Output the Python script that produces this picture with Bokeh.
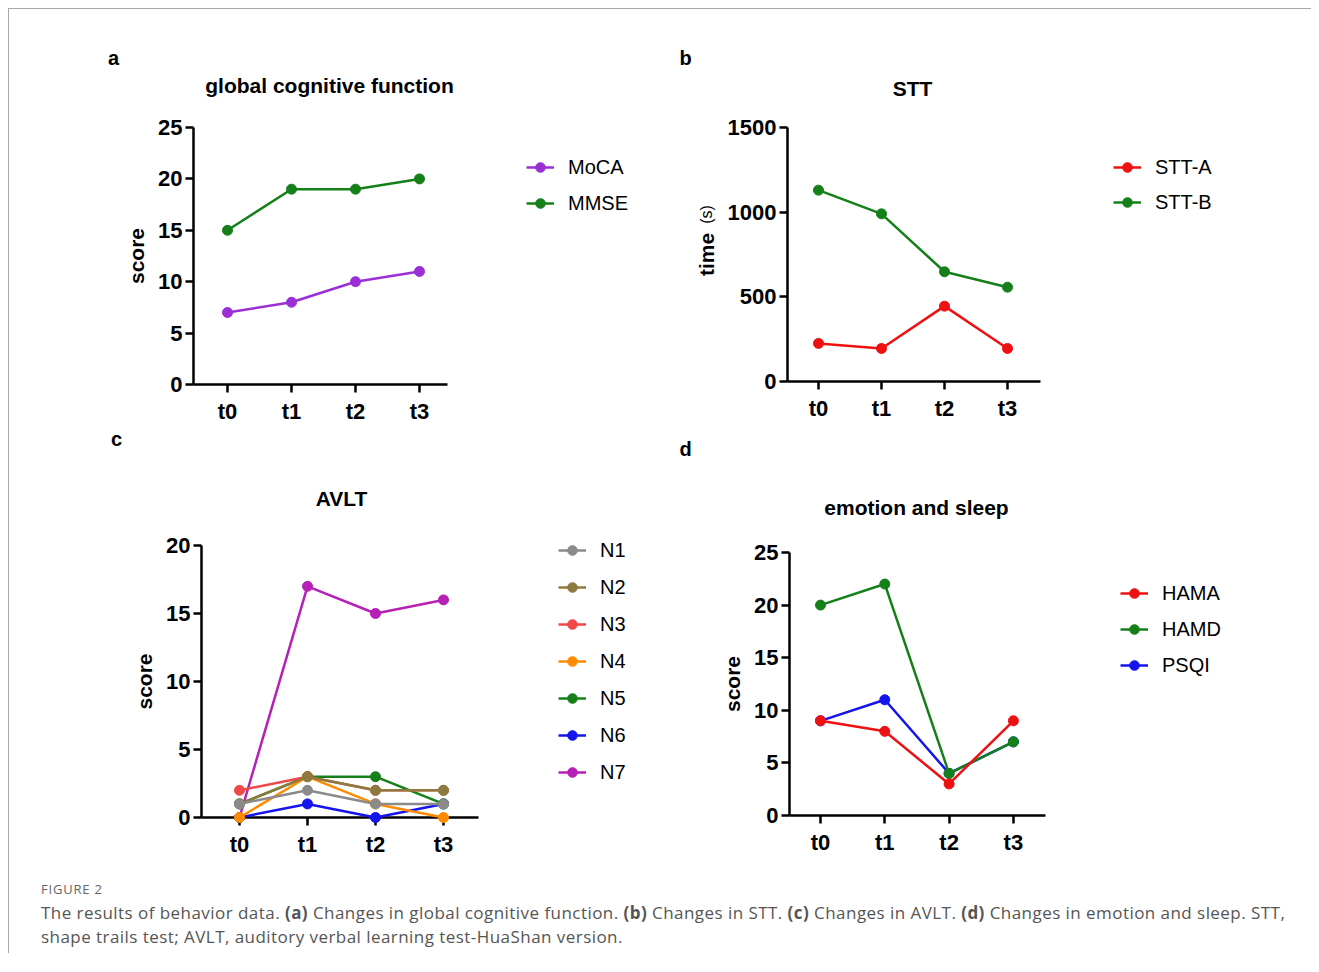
from math import pi
from bokeh.plotting import figure
from bokeh.models import Legend, LegendItem, Label, FixedTicker, Range1d, Div
from bokeh.layouts import column, row
from bokeh.embed import file_html
from bokeh.resources import INLINE

# ---------------- data ----------------
time_points = ["t0", "t1", "t2", "t3"]

# (a) global cognitive function
moca = [7, 8, 10, 11]
mmse = [15, 19, 19, 20]

# (b) STT, time (s)
stt_a = [225, 195, 445, 195]
stt_b = [1130, 990, 648, 557]

# (c) AVLT
n1 = [1, 2, 1, 1]
n2 = [1, 3, 2, 2]
n3 = [2, 3, 2, 2]
n4 = [0, 3, 1, 0]
n5 = [1, 3, 3, 1]
n6 = [0, 1, 0, 1]
n7 = [0, 17, 15, 16]

# (d) emotion and sleep
hama = [9, 8, 3, 9]
hamd = [20, 22, 4, 7]
psqi = [9, 11, 4, 7]

ticks_a = [0, 5, 10, 15, 20, 25]
ticks_b = [0, 500, 1000, 1500]
ticks_c = [0, 5, 10, 15, 20]
ticks_d = [0, 5, 10, 15, 20, 25]

FONT = "Liberation Sans"
RED = "#EE1111"
GREEN = "#15801A"
BLUE = "#1414EE"


def build(fig_box, ax_l, ax_r, ax_top, ax_zero, y_ticks, tick0_px, step_px,
          names, series, colors, y_label, title, title_xy, letter, letter_xy,
          leg_xy, leg_spacing):
    """fig_box and all *_px / *_xy values are layout positions in page pixels."""
    fx, fy, fw, fh = fig_box
    y_max = y_ticks[-1]
    ppu = (ax_zero - ax_top) / y_max

    def dx(X):
        return (X - tick0_px) / step_px

    def dy(Y):
        return (ax_zero - Y) / ppu

    p = figure(width=fw, height=fh, output_backend="svg", toolbar_location=None,
               x_range=Range1d(dx(fx), dx(fx + fw)), y_range=Range1d(dy(fy + fh), dy(fy)),
               min_border=0, min_border_left=0, min_border_right=0,
               min_border_top=0, min_border_bottom=0)
    p.outline_line_color = None
    p.xgrid.visible = False
    p.ygrid.visible = False
    p.background_fill_color = "white"
    p.border_fill_color = "white"

    xs = list(range(len(time_points)))
    rend = {}
    for name, vals, col in reversed(list(zip(names, series, colors))):
        lr = p.line(xs, vals, line_color=col, line_width=2.5)
        sr = p.scatter(xs, vals, size=10, fill_color=col, line_color=col)
        rend[name] = [lr, sr]

    for ax in (p.xaxis, p.yaxis):
        ax.axis_line_width = 2.5
        ax.axis_line_color = "black"
        ax.major_tick_line_width = 2.5
        ax.major_tick_line_color = "black"
        ax.major_tick_in = 0
        ax.major_tick_out = 8
        ax.minor_tick_line_color = None
        ax.major_label_text_font = FONT
        ax.major_label_text_font_style = "bold"
        ax.major_label_text_font_size = "22px"
        ax.major_label_text_color = "black"

    p.xaxis.ticker = FixedTicker(ticks=xs)
    p.xaxis.major_label_overrides = {i: t for i, t in enumerate(time_points)}
    p.xaxis.fixed_location = 0
    p.xaxis.bounds = (dx(ax_l), dx(ax_r))
    p.xaxis.major_label_standoff = 6
    p.xaxis.level = "underlay"

    p.yaxis.ticker = FixedTicker(ticks=y_ticks)
    p.yaxis.fixed_location = dx(ax_l)
    p.yaxis.bounds = (0, y_max)
    p.yaxis.major_label_standoff = 3
    p.yaxis.axis_label = y_label
    p.yaxis.axis_label_text_font = FONT
    p.yaxis.axis_label_text_font_style = "bold"
    p.yaxis.axis_label_text_font_size = "21px"
    p.yaxis.axis_label_text_color = "black"
    p.yaxis.axis_label_standoff = 7

    def scr(X, Y):
        return X - fx, fy + fh - Y

    tx, ty = scr(*title_xy)
    p.add_layout(Label(x=tx, y=ty, x_units="screen", y_units="screen", text=title,
                       text_align="center", text_baseline="middle", text_font=FONT,
                       text_font_size="21px", text_font_style="bold", text_color="black"))
    lx, ly = scr(*letter_xy)
    p.add_layout(Label(x=lx, y=ly, x_units="screen", y_units="screen", text=letter,
                       text_align="center", text_baseline="middle", text_font=FONT,
                       text_font_size="20px", text_font_style="bold", text_color="black"))

    gh = 24
    n = len(names)
    top = leg_xy[1] - gh / 2
    bottom = top + gh * n + leg_spacing * (n - 1)
    legend = Legend(items=[LegendItem(label=nm, renderers=rend[nm]) for nm in names],
                    location=scr(leg_xy[0], bottom),
                    border_line_color=None, background_fill_alpha=0,
                    padding=0, margin=0, spacing=leg_spacing,
                    glyph_width=28, glyph_height=gh, label_height=gh,
                    label_standoff=14, label_text_font=FONT,
                    label_text_font_size="20px", label_text_color="black")
    p.add_layout(legend)
    return p, scr


ROW1 = (9, 420)
ROW2 = (429, 442)

pa, _ = build((9, ROW1[0], 650, ROW1[1]), 193, 447, 127, 384, ticks_a, 227, 64,
              ["MoCA", "MMSE"], [moca, mmse], ["#9B2FD6", GREEN], "score",
              "global cognitive function", (329, 85), "a", (113, 57), (526, 167), 12)

pb, scr_b = build((659, ROW1[0], 651, ROW1[1]), 787, 1040, 127, 381, ticks_b, 818, 63,
                  ["STT-A", "STT-B"], [stt_a, stt_b], [RED, GREEN], "time",
                  "STT", (912, 88), "b", (685, 57), (1113, 167), 11)
sx, sy = scr_b(706, 214)
pb.add_layout(Label(x=sx, y=sy, x_units="screen", y_units="screen", text="(s)",
                    angle=pi / 2, text_align="center", text_baseline="middle",
                    text_font=FONT, text_font_size="16px", text_color="black"))

pc, _ = build((9, ROW2[0], 650, ROW2[1]), 201, 478, 545, 817, ticks_c, 239, 68,
              ["N1", "N2", "N3", "N4", "N5", "N6", "N7"],
              [n1, n2, n3, n4, n5, n6, n7],
              ["#8A8A8A", "#8C7A3E", "#F04848", "#FF8C00", GREEN, BLUE, "#B520B5"],
              "score", "AVLT", (341, 498), "c", (116, 438), (558, 550), 13)

pd_, _ = build((659, ROW2[0], 651, ROW2[1]), 789, 1045, 552, 815, ticks_d, 820, 64.3,
               ["HAMA", "HAMD", "PSQI"], [hama, hamd, psqi], [RED, GREEN, BLUE],
               "score", "emotion and sleep", (916, 507), "d", (685, 448), (1120, 593), 12)

caption_html = (
    '<div style="font-family:\'Open Sans\'; padding-left:32px; padding-top:10px;">'
    '<div style="font-size:13px; line-height:16px; color:#666; letter-spacing:0.8px;">FIGURE 2</div>'
    '<div style="font-size:17px; line-height:24px; margin-top:4px; color:#555; '
    'letter-spacing:0.45px; white-space:nowrap;">'
    'The results of behavior data. <b>(a)</b> Changes in global cognitive function. '
    '<b>(b)</b> Changes in STT. <b>(c)</b> Changes in AVLT. <b>(d)</b> Changes in emotion and sleep. STT,<br>'
    'shape trails test; AVLT, auditory verbal learning test-HuaShan version.'
    '</div></div>'
)
caption = Div(text=caption_html, width=1302, height=82, margin=(0, 0, 0, 0))

layout = column(row(pa, pb), row(pc, pd_), caption, margin=(8, 0, 0, 8),
                styles={"border-top": "1px solid #a8a8a8", "border-left": "1px solid #a8a8a8",
                        "background-color": "white"})

open("out.html", "w").write(file_html(layout, INLINE))
